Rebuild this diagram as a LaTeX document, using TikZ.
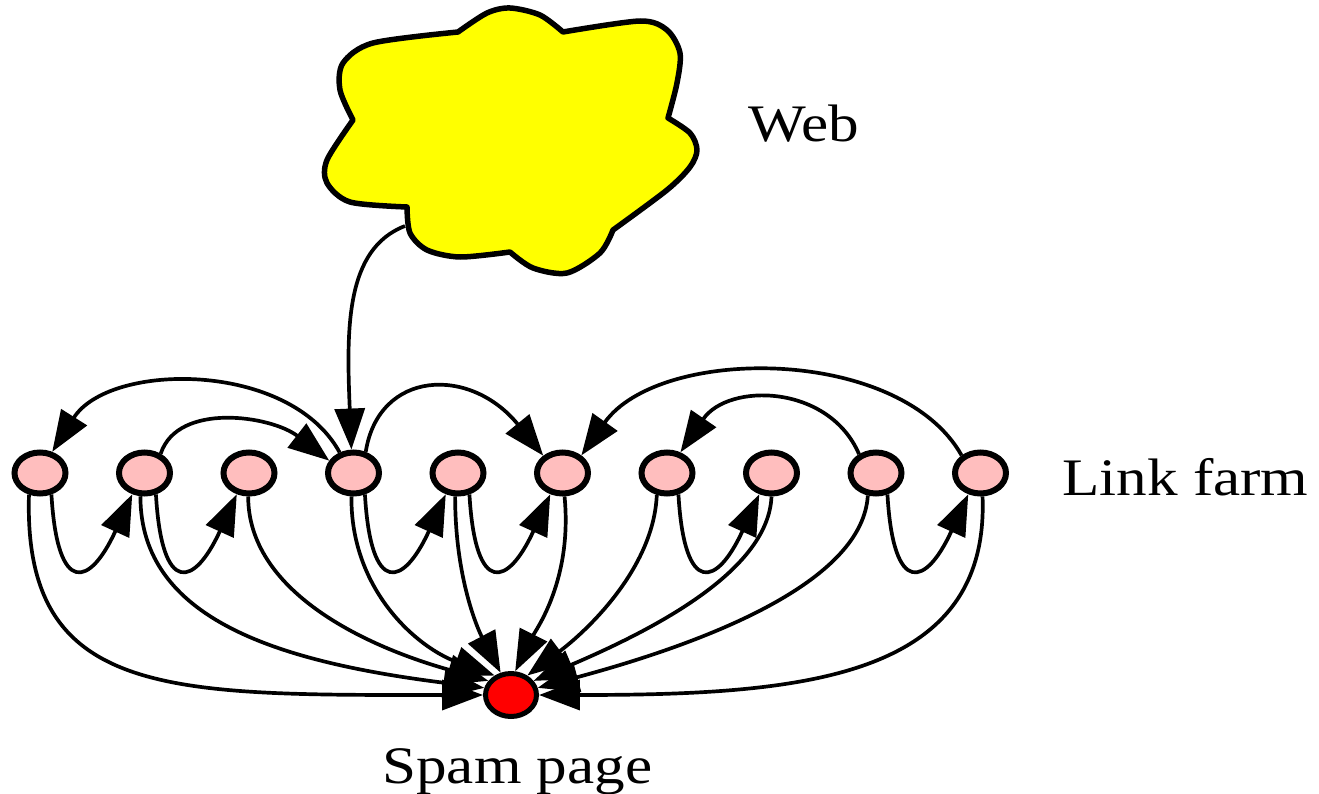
\documentclass[tikz,border=0pt]{standalone}
\usepackage{fontspec}
\setmainfont{Liberation Serif}[FakeStretch=1.16]
\usetikzlibrary{arrows.meta,shapes.geometric}
\definecolor{farmpink}{RGB}{255,190,190}
\definecolor{webyellow}{RGB}{255,255,0}

\begin{document}
\begin{tikzpicture}[x=0.02cm,y=-0.02cm,
  farm/.style={ellipse, draw=black, line width=0.12cm, fill=farmpink,
    minimum width=1.02cm, minimum height=0.82cm, inner sep=0pt},
  spamnode/.style={ellipse, draw=black, line width=0.1cm, fill=red,
    minimum width=1.02cm, minimum height=0.86cm, inner sep=0pt},
  link/.style={line width=2.1pt, -{Triangle[length=0.82cm,width=0.6cm]}},
  txt/.style={inner sep=0pt, font=\fontsize{30}{36}\selectfont},
  webcloud/.style={draw=black, line width=0.11cm, fill=webyellow, line join=round}]

\useasboundingbox (0,0) rectangle (1319,794);

% the web as an irregular cloud, one smooth lobe between each pair of inner corners
\path[webcloud]
  plot[smooth] coordinates {(458,32) (487,13) (510,8) (540,15) (563,32)}
  -- plot[smooth] coordinates {(563,32) (640,21) (667,30) (680,53) (677,83) (668,118)}
  -- plot[smooth] coordinates {(668,118) (690,133) (697,150) (690,167) (667,190) (613,230)}
  -- plot[smooth] coordinates {(613,230) (600,253) (567,273) (533,268) (510,252)}
  -- plot[smooth] coordinates {(510,252) (460,257) (427,250) (410,233) (407,207)}
  -- plot[smooth] coordinates {(407,207) (350,202) (327,183) (327,160) (353,120)}
  -- plot[smooth] coordinates {(353,120) (340,90) (343,63) (373,43) (458,32)}
  -- cycle;
\coordinate (cloudtail) at (405,226);

% link farm pages and the spam page
\foreach \i in {1,...,10}
  \node[farm] (n\i) at ({40+104.5*(\i-1)},473) {};
\node[spamnode] (spam) at (511,695) {};

% labels
\node[txt, anchor=base west] (weblabel) at (748,142) {Web};
\node[txt, anchor=base west] (farmlabel) at (1062,495) {Link farm};
\node[txt, anchor=base west] (spamlabel) at (382,783) {Spam page};

% incoming link from the web
\draw[link] (cloudtail) .. controls +(-60,23) and +(-5,-120) .. (n4.95);

% arcs over the farm
\draw[link] (n4.124) .. controls +(-50,-92) and +(57,-90) .. (n1.60);
\draw[link] (n2.50) .. controls +(17,-52) and +(-58,-45) .. (n4.153);
\draw[link] (n4.60) .. controls +(13,-82) and +(-73,-90) .. (n6.138);
\draw[link] (n10.137) .. controls +(-62,-110) and +(78,-110) .. (n6.43);
\draw[link] (n9.132) .. controls +(-30,-70) and +(48,-70) .. (n7.57);

% small loops between neighbours
\foreach \a/\b in {1/2,2/3,4/5,5/6,7/8,9/10}
  \draw[link] (n\a.-62) .. controls +(6,103) and +(-42,92) .. (n\b.-120);

% every farm page links to the spam page
\draw[link] (n1.-117) .. controls +(-6,204) and +(-314,0) .. (spam.180);
\draw[link] (n2.-100) .. controls +(0,123) and +(-206,-26) .. (spam.165);
\draw[link] (n3.-92) .. controls +(0,93) and +(-128,-36) .. (spam.148);
\draw[link] (n4.-95) .. controls +(-1,93) and +(-78,-28) .. (spam.130);
\draw[link] (n5.-97) .. controls +(0,83) and +(-22,-42) .. (spam.115);
\draw[link] (n6.-85) .. controls +(8,83) and +(21,-42) .. (spam.80);
\draw[link] (n7.-115) .. controls +(-3,73) and +(60,-45) .. (spam.50);
\draw[link] (n8.-90) .. controls +(-3,73) and +(124,-53) .. (spam.32);
\draw[link] (n9.-110) .. controls +(-5,83) and +(182,-49) .. (spam.15);
\draw[link] (n10.-85) .. controls +(7,183) and +(262,0) .. (spam.0);
\end{tikzpicture}
\end{document}
